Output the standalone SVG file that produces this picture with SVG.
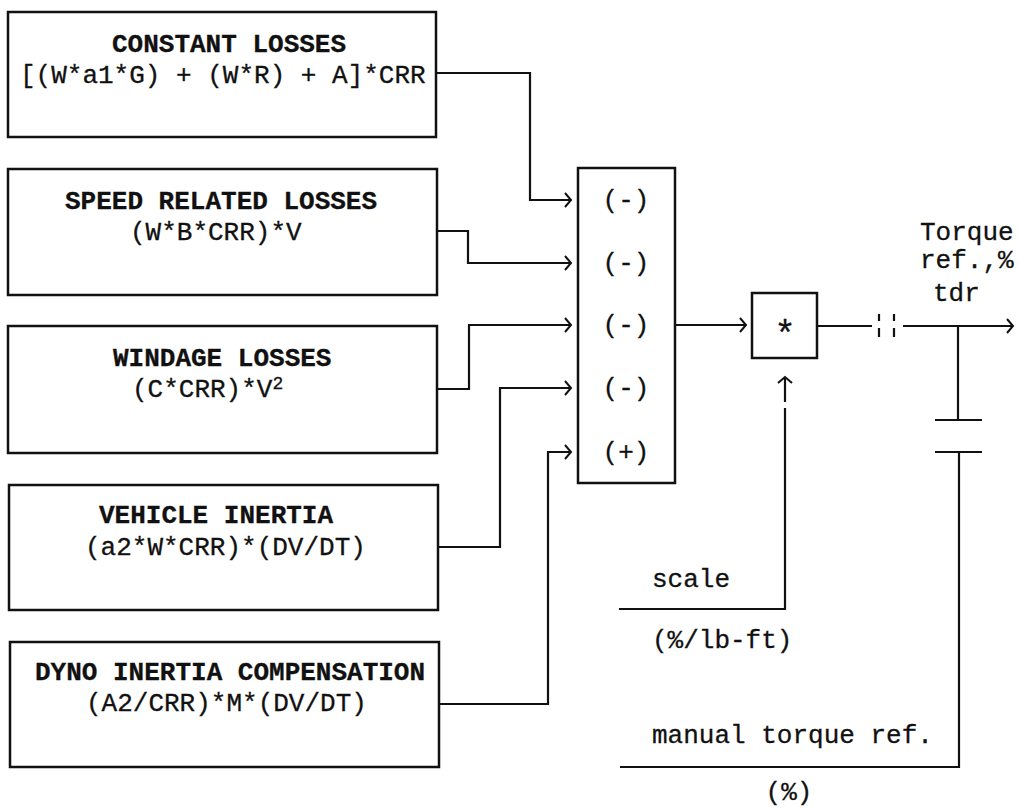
<svg xmlns="http://www.w3.org/2000/svg" width="1019" height="808" viewBox="0 0 1019 808">
<style>
.box{fill:none;stroke:#111;stroke-width:2.5}
.ln{fill:none;stroke:#111;stroke-width:2.2}
.t{font-family:"Liberation Mono","DejaVu Sans Mono",monospace;font-size:26px;fill:#111;stroke:#111;stroke-width:0.3}
.b{font-weight:bold}
.big{font-size:36px}
</style>
<defs>
<marker id="arr" markerUnits="userSpaceOnUse" markerWidth="12" markerHeight="18" viewBox="-9 -9 12 18" refX="0" refY="0" orient="auto">
<path d="M-6,-7 L0,0 L-6,7" fill="none" stroke="#111" stroke-width="2"/>
</marker>
</defs>
<rect width="1019" height="808" fill="#fff"/>
<g id="constant-losses">
<rect class="box" x="8" y="12" width="428" height="125"/>
<text class="t b" x="112" y="52">CONSTANT LOSSES</text>
<text class="t" x="20" y="83">[(W*a1*G) + (W*R) + A]*CRR</text>
</g>
<g id="speed-losses">
<rect class="box" x="8" y="169" width="429" height="126"/>
<text class="t b" x="65" y="209">SPEED RELATED LOSSES</text>
<text class="t" x="130" y="240">(W*B*CRR)*V</text>
</g>
<g id="windage-losses">
<rect class="box" x="8" y="326" width="429" height="127"/>
<text class="t b" x="113" y="366">WINDAGE LOSSES</text>
<text class="t" x="132" y="397">(C*CRR)*V<tspan font-size="18" dy="-8">2</tspan></text>
</g>
<g id="vehicle-inertia">
<rect class="box" x="9" y="485" width="429" height="125"/>
<text class="t b" x="99" y="523">VEHICLE INERTIA</text>
<text class="t" x="85" y="555">(a2*W*CRR)*(DV/DT)</text>
</g>
<g id="dyno-inertia">
<rect class="box" x="10" y="642" width="429" height="125"/>
<text class="t b" x="35" y="680">DYNO INERTIA COMPENSATION</text>
<text class="t" x="86" y="711">(A2/CRR)*M*(DV/DT)</text>
</g>
<g id="summer">
<rect class="box" x="578" y="168" width="97" height="315"/>
<text class="t" x="626" y="208" text-anchor="middle">(-)</text>
<text class="t" x="626" y="271" text-anchor="middle">(-)</text>
<text class="t" x="626" y="333" text-anchor="middle">(-)</text>
<text class="t" x="626" y="396" text-anchor="middle">(-)</text>
<text class="t" x="626" y="460" text-anchor="middle">(+)</text>
</g>
<g id="multiplier">
<rect class="box" x="752" y="293" width="65" height="65"/>
<text class="t big" x="785" y="346" text-anchor="middle">*</text>
</g>
<g id="labels">
<text class="t" x="920" y="240">Torque</text>
<text class="t" x="920" y="268">ref.,%</text>
<text class="t" x="933" y="301">tdr</text>
<text class="t" x="652" y="587">scale</text>
<text class="t" x="652" y="648">(%/lb-ft)</text>
<text class="t" x="652" y="743">manual torque ref.</text>
<text class="t" x="789" y="800" text-anchor="middle">(%)</text>
</g>
<g id="connectors">
<path class="ln" d="M436,73 H530 V200 H571" marker-end="url(#arr)"/>
<path class="ln" d="M437,231 H468 V263 H571" marker-end="url(#arr)"/>
<path class="ln" d="M437,389 H469 V325 H571" marker-end="url(#arr)"/>
<path class="ln" d="M438,547 H500 V388 H571" marker-end="url(#arr)"/>
<path class="ln" d="M439,704 H548 V452 H571" marker-end="url(#arr)"/>
<path class="ln" d="M675,325 H746" marker-end="url(#arr)"/>
<path class="ln" d="M817,326 H872"/>
<path class="ln" d="M879,314 V321 M879,328 V337 M894,314 V321 M894,328 V337"/>
<path class="ln" d="M903,326 H1013" marker-end="url(#arr)"/>
<path class="ln" d="M958,326 V420"/>
<path class="ln" stroke-width="3" d="M935,420 H982 M935,452 H982"/>
<path class="ln" d="M959,452 V767 H620"/>
<path class="ln" d="M619,609 H785 V408"/>
<path class="ln" d="M785,402 V377" marker-end="url(#arr)"/>
</g>
</svg>
